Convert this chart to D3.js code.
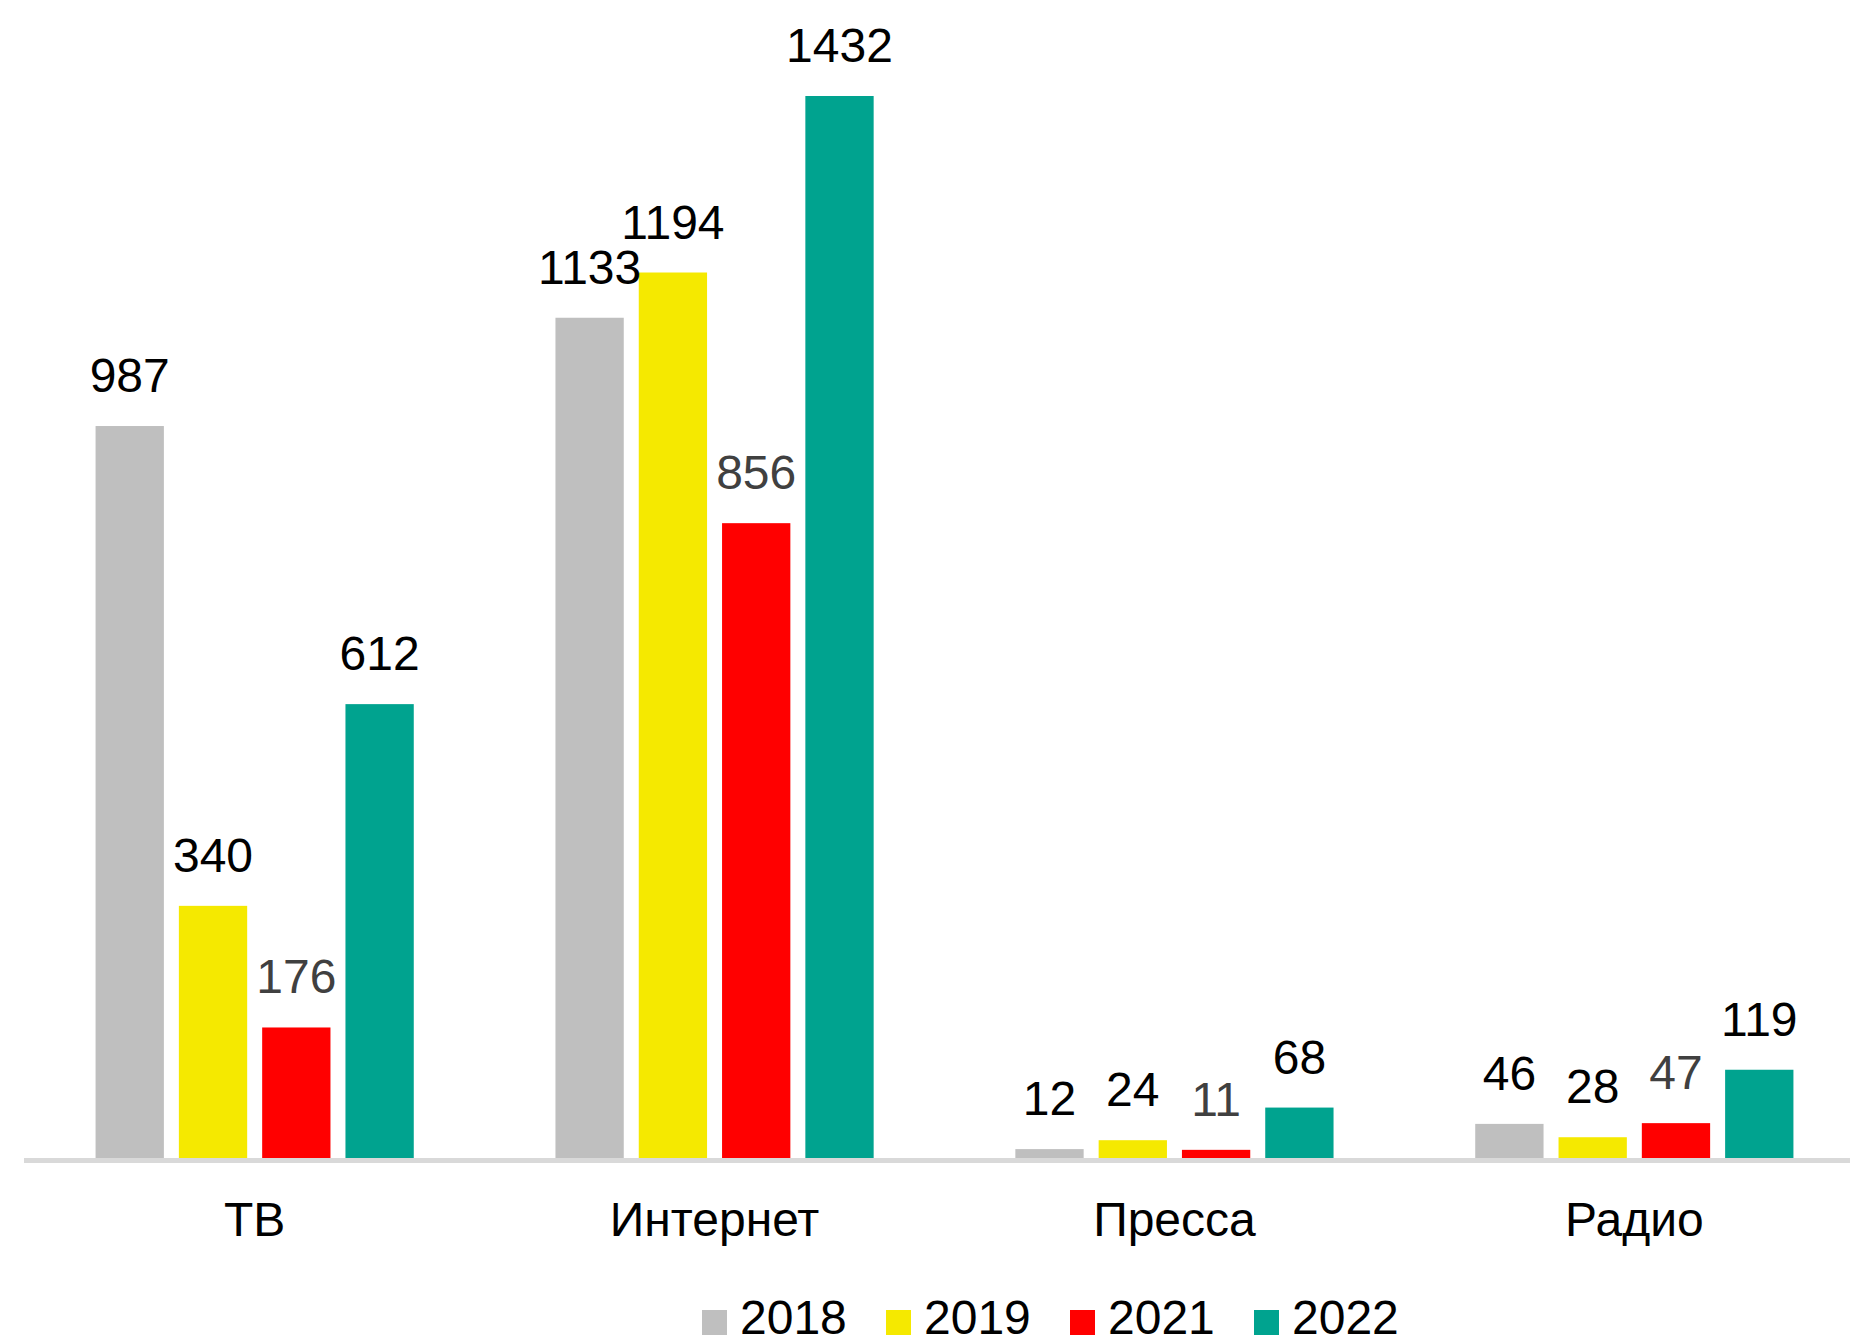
<!DOCTYPE html>
<html>
<head>
<meta charset="utf-8">
<script src="https://cdn.jsdelivr.net/npm/d3@7"></script>
<style>
  html, body { margin: 0; padding: 0; background: #ffffff; }
  svg { display: block; }
</style>
</head>
<body>
<svg id="chart" width="1850" height="1335"></svg>
<script>
// ---- Data ----
const categories = ["ТВ", "Интернет", "Пресса", "Радио"];
const years = ["2018", "2019", "2021", "2022"];
const values2018 = [987, 1133, 12, 46];
const values2019 = [340, 1194, 24, 28];
const values2021 = [176, 856, 11, 47];
const values2022 = [612, 1432, 68, 119];
const seriesValues = [values2018, values2019, values2021, values2022];
const colors = ["#bfbfbf", "#f5e900", "#ff0000", "#00a38f"];
const labelColors = ["#000000", "#000000", "#404040", "#000000"];

// ---- Layout ----
const W = 1850, H = 1335;
const baseY = 1158;
const svg = d3.select("#chart");
const font = "'Liberation Sans', Arial, sans-serif";

const x0 = d3.scaleBand()
  .domain(categories)
  .range([24.7, 1864.3])
  .paddingInner(0.2755)
  .paddingOuter(0.1378);

const x1 = d3.scaleBand()
  .domain(years)
  .range([0, x0.bandwidth()])
  .paddingInner(0.18)
  .paddingOuter(0.09);

const y = d3.scaleLinear()
  .domain([0, 1432])
  .range([baseY, 96]);

const data = [];
categories.forEach((c, ci) => {
  years.forEach((yr, si) => {
    data.push({ cat: c, year: yr, si: si, value: seriesValues[si][ci] });
  });
});

// bars
svg.append("g").selectAll("rect")
  .data(data)
  .join("rect")
  .attr("x", d => x0(d.cat) + x1(d.year))
  .attr("y", d => y(d.value))
  .attr("width", x1.bandwidth())
  .attr("height", d => baseY - y(d.value))
  .attr("fill", d => colors[d.si]);

// baseline
svg.append("line")
  .attr("x1", 24).attr("x2", W)
  .attr("y1", baseY + 2.5).attr("y2", baseY + 2.5)
  .attr("stroke", "#d9d9d9")
  .attr("stroke-width", 5);

// value labels
svg.append("g").selectAll("text")
  .data(data)
  .join("text")
  .attr("x", d => x0(d.cat) + x1(d.year) + x1.bandwidth() / 2)
  .attr("y", d => y(d.value) - 34)
  .attr("text-anchor", "middle")
  .attr("font-family", font)
  .attr("font-size", 48)
  .attr("fill", d => labelColors[d.si])
  .text(d => d.value);

// category axis labels
const xAxis = d3.axisBottom(x0).tickSize(0).tickPadding(0);
const gx = svg.append("g")
  .attr("transform", `translate(0, ${baseY})`)
  .call(xAxis);
gx.select(".domain").remove();
gx.selectAll("text")
  .attr("font-family", font)
  .attr("font-size", 48)
  .attr("fill", "#000000")
  .attr("dy", null)
  .attr("y", 78);

// legend
const legendX = d3.scaleLinear().domain([0, 1]).range([702, 886]);
const lg = svg.append("g").selectAll("g")
  .data(years)
  .join("g")
  .attr("transform", (d, i) => `translate(${legendX(i)}, 0)`);
lg.append("rect")
  .attr("x", 0).attr("y", 1310)
  .attr("width", 25).attr("height", 25)
  .attr("fill", (d, i) => colors[i]);
lg.append("text")
  .attr("x", 38).attr("y", 1333.5)
  .attr("font-family", font)
  .attr("font-size", 48)
  .attr("fill", "#000000")
  .text(d => d);
</script>
</body>
</html>
